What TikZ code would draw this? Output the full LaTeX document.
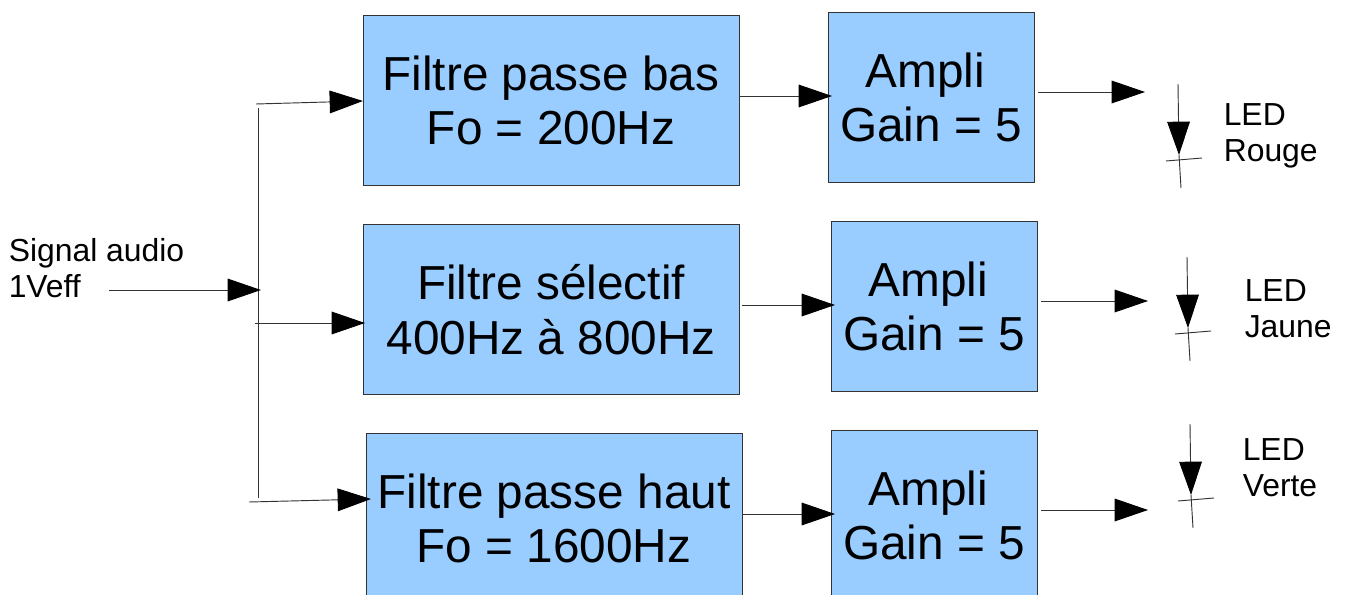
\documentclass[tikz,border=0pt]{standalone}
\usepackage{fontspec}
\setmainfont{Liberation Sans}
\usetikzlibrary{arrows.meta}
\definecolor{boxblue}{HTML}{99CCFF}
\definecolor{wire}{HTML}{333333}
\newcommand{\bigfont}{\fontsize{35.8pt}{41pt}\selectfont}
\newcommand{\smallfont}{\fontsize{23.9pt}{27pt}\selectfont}
\newcommand{\amplitext}{\mbox{Ampli\hspace{8.5pt}}\\Gain = 5}
\tikzset{
  x=0.75pt,y=-0.75pt,
  boxbase/.style={draw=wire,line width=0.75pt,fill=boxblue,inner sep=0pt,align=center,font=\bigfont},
  filterbox/.style={boxbase,minimum width=282pt,minimum height=127.5pt},
  amplibox/.style={boxbase,minimum width=154.5pt,minimum height=127.5pt},
  label/.style={inner sep=0pt,align=left,font=\smallfont,anchor=north west},
  wireline/.style={draw=wire,line width=0.7pt},
  arr/.style={wireline,-{Triangle[length=25pt,width=17pt,color=black]}},
}
\begin{document}
\begin{tikzpicture}
\useasboundingbox (0,0) rectangle (1346,595);
\clip (0,0) rectangle (1346,595);
% boxes
\node[filterbox] (F1) at (551,100.5) {Filtre passe bas\\Fo = 200Hz};
\node[filterbox] (F2) at (551,309.5) {Filtre sélectif\\400Hz à 800Hz};
\node[filterbox] (F3) at (554,518.5) {Filtre passe haut\\Fo = 1600Hz};
\node[amplibox] (A1) at (931,97.5) {\amplitext};
\node[amplibox] (A2) at (934,306.5) {\amplitext};
\node[amplibox] (A3) at (934,515.5) {\amplitext};
% texts
\node[label] (sig) at (8.5,238.5) {Signal audio\\1Veff};
\node[label] (L1) at (1223.5,103) {LED\\Rouge};
\node[label] (L2) at (1244.5,279) {LED\\Jaune};
\node[label] (L3) at (1242.5,438) {LED\\Verte};
% free ends
\coordinate (in) at (109,290);
\coordinate (junc) at (261,290);
\coordinate (bt) at (258,108);
\coordinate (bb) at (258,498);
\coordinate (s1) at (256,104);
\coordinate (s2) at (255,323);
\coordinate (s3) at (249,502);
\coordinate (t1) at (363,101);
\coordinate (t2) at (365,323);
\coordinate (t3) at (371,499);
\coordinate (c1) at (739,96);
\coordinate (d1) at (832,96);
\coordinate (c2) at (742,305);
\coordinate (d2) at (835,305);
\coordinate (c3) at (742,514);
\coordinate (d3) at (835,514);
\coordinate (o1a) at (1038,92);
\coordinate (o1b) at (1145,92);
\coordinate (o2a) at (1041,301);
\coordinate (o2b) at (1148,301);
\coordinate (o3a) at (1041,510);
\coordinate (o3b) at (1148,510);
% input side
\draw[wireline] (bt) -- (bb);
\draw[arr] (in) -- (junc);
\draw[arr] (s1) -- (t1);
\draw[arr] (s2) -- (t2);
\draw[arr] (s3) -- (t3);
% filter to ampli
\draw[arr] (c1) -- (d1);
\draw[arr] (c2) -- (d2);
\draw[arr] (c3) -- (d3);
% outputs
\draw[arr] (o1a) -- (o1b);
\draw[arr] (o2a) -- (o2b);
\draw[arr] (o3a) -- (o3b);
% LEDs
\coordinate (la1) at (1178,84);
\coordinate (lb1) at (1179,155);
\coordinate (lc1) at (1181,188);
\coordinate (lp1) at (1166,161);
\coordinate (lq1) at (1202,158);
\draw[arr] (la1) -- (lb1);
\draw[wireline] (lb1) -- (lc1);
\draw[wireline] (lp1) -- (lq1);
\coordinate (la2) at (1187,257);
\coordinate (lb2) at (1188,328);
\coordinate (lc2) at (1190,361);
\coordinate (lp2) at (1175,334);
\coordinate (lq2) at (1211,331);
\draw[arr] (la2) -- (lb2);
\draw[wireline] (lb2) -- (lc2);
\draw[wireline] (lp2) -- (lq2);
\coordinate (la3) at (1190,424);
\coordinate (lb3) at (1191,495);
\coordinate (lc3) at (1193,528);
\coordinate (lp3) at (1178,501);
\coordinate (lq3) at (1214,498);
\draw[arr] (la3) -- (lb3);
\draw[wireline] (lb3) -- (lc3);
\draw[wireline] (lp3) -- (lq3);
\end{tikzpicture}
\end{document}
